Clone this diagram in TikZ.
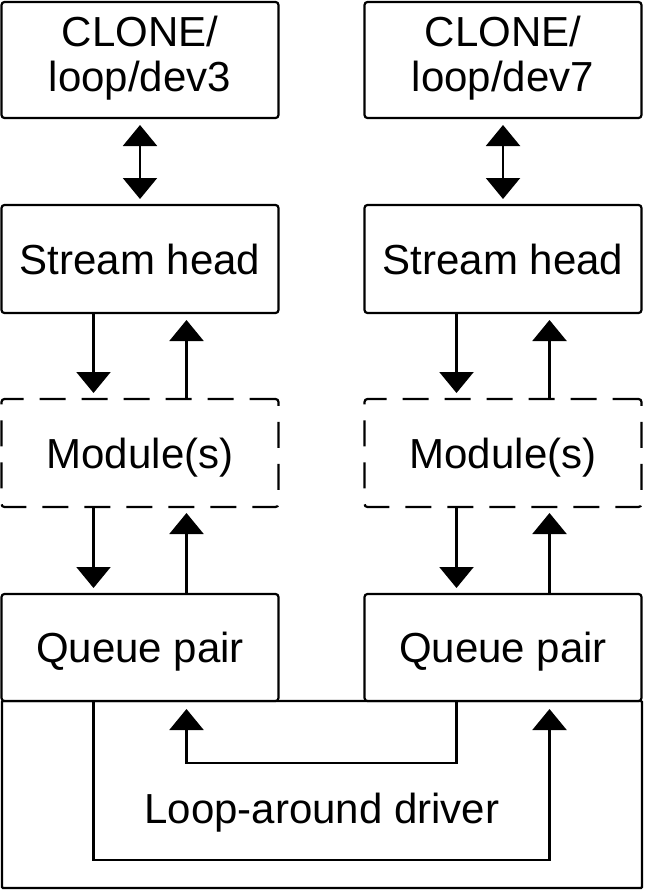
\documentclass[tikz,border=0pt]{standalone}
\usepackage{fontspec}
\setmainfont{Liberation Sans}
\usetikzlibrary{arrows.meta}
\begin{document}
\begin{tikzpicture}[x=1pt,y=-1pt,
  box/.style={draw, line width=2.2pt, rounded corners=3pt, inner sep=0pt, outer sep=0pt,
    minimum width=277pt, font=\fontsize{42}{45}\selectfont, text height=30pt, text depth=0pt},
  dbox/.style={box, dash pattern=on 26pt off 16pt},
  arr/.style={line width=2.2pt, -{Triangle[width=34pt,length=21pt]}},
  darr/.style={line width=2.2pt, {Triangle[width=34pt,length=21pt]}-{Triangle[width=34pt,length=21pt]}},
  lbl/.style={font=\fontsize{42}{45}\selectfont, inner sep=0pt, anchor=base, align=center}
]
\useasboundingbox (0,0) rectangle (648,891);
\fill[white] (0,0) rectangle (648,891);

% driver
\node[box, minimum width=640pt, minimum height=187pt, rounded corners=1pt] (drv) at (322,794.5) {};
\node[lbl] (tdrv) at (322,823) {Loop-around driver};

% left column
\node[box, minimum height=116pt] (clone3) at (140,60) {};
\node[lbl] (tclone3) at (140,92) {CLONE/\\loop/dev3};
\node[box, minimum height=108pt] (stream3) at (140,259) {Stream head};
\node[dbox, minimum height=108pt] (module3) at (140,453) {Module(s)};
\node[box, fill=white, minimum height=107pt] (queue3) at (140,647.5) {Queue pair};

% right column
\node[box, minimum height=116pt] (clone7) at (503,60) {};
\node[lbl] (tclone7) at (503,92) {CLONE/\\loop/dev7};
\node[box, minimum height=108pt] (stream7) at (503,259) {Stream head};
\node[dbox, minimum height=108pt] (module7) at (503,453) {Module(s)};
\node[box, fill=white, minimum height=107pt] (queue7) at (503,647.5) {Queue pair};

% double arrows
\draw[darr, shorten <=7pt, shorten >=6pt] (clone3.south) -- (stream3.north);
\draw[darr, shorten <=7pt, shorten >=6pt] (clone7.south) -- (stream7.north);

% column arrows
\foreach \c in {3,7}{
  \draw[arr, shorten >=6pt] ([xshift=-46.5pt]stream\c.south) -- ([xshift=-46.5pt]module\c.north);
  \draw[arr, shorten >=7pt] ([xshift=46.5pt]module\c.north) -- ([xshift=46.5pt]stream\c.south);
  \draw[arr, shorten >=6pt] ([xshift=-46.5pt]module\c.south) -- ([xshift=-46.5pt]queue\c.north);
  \draw[arr, shorten >=6pt] ([xshift=46.5pt]queue\c.north) -- ([xshift=46.5pt]module\c.south);
}

% loop-around arrows
\draw[arr, shorten >=8pt] ([xshift=-46.5pt]queue7.south) -- ++(0,62) -| ([xshift=46.5pt]queue3.south);
\draw[arr, shorten >=8pt] ([xshift=-46.5pt]queue3.south) -- ++(0,159) -| ([xshift=46.5pt]queue7.south);
\end{tikzpicture}
\end{document}
